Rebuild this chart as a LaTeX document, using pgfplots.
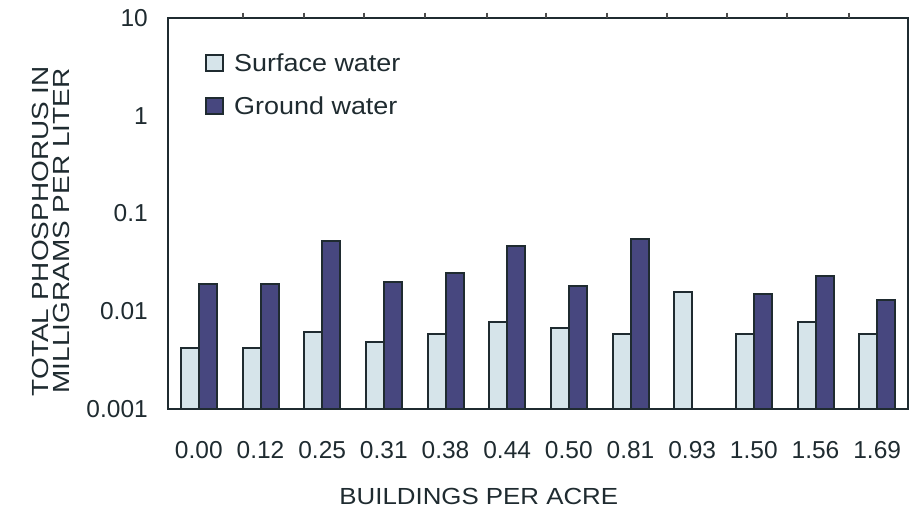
\documentclass[border=0pt]{standalone}
\usepackage{pgfplots}
\pgfplotsset{compat=1.18}
\usepackage{fontspec}
\setmainfont{Liberation Sans}
\newfontfamily\ylabfont[FakeStretch=1.2]{Liberation Sans}
\newfontfamily\xlabfont[FakeStretch=1.11]{Liberation Sans}
\newfontfamily\legfont[FakeStretch=1.1]{Liberation Sans}
\definecolor{surf}{HTML}{D6E4EA}
\definecolor{grnd}{HTML}{47477F}
\definecolor{edge}{HTML}{1F2B30}
\begin{document}
\begin{tikzpicture}
\begin{axis}[
  name=ax,
  scale only axis, width=740pt, height=391pt,
  ymode=log, ymin=0.001, ymax=10, log origin=infty,
  xmin=-0.5, xmax=11.5,
  axis line style={edge, line width=2pt},
  ybar=0pt, bar width=18pt,
  /pgf/number format/assume math mode=true,
  major tick length=0pt,
  xtick={0,...,11},
  xticklabels={0.00,0.12,0.25,0.31,0.38,0.44,0.50,0.81,0.93,1.50,1.56,1.69},
  xtick pos=upper, xticklabel pos=lower,
  extra x ticks={0.716,1.705,2.678,3.667,4.673,5.629,6.619,7.592,8.564,9.537,10.543},
  extra x tick labels={},
  extra x tick style={major tick length=5.5pt, tick style={draw=gray!60!black, line width=1.3pt}},
  xticklabel style={font=\fontsize{24.5}{26}\selectfont, text=edge, inner sep=0pt, anchor=north, yshift=-32pt},
  ytick={0.001,0.01,0.1,1,10},
  yticklabels={0.001,0.01,0.1,1,10},
  yminorticks=false,
  y tick style={draw=none},
  yticklabel style={font=\fontsize{24.5}{26}\selectfont, text=edge, inner sep=0pt, anchor=east, xshift=-20pt},
  xlabel={BUILDINGS PER ACRE},
  xlabel style={font=\xlabfont\fontsize{23.3}{25}\selectfont, text=edge, at={(axis description cs:0.42,0)}, anchor=center, yshift=-87pt},
  ylabel={TOTAL PHOSPHORUS IN\\MILLIGRAMS PER LITER},
  ylabel style={font=\ylabfont\fontsize{23.3}{21.5}\selectfont, text=edge, align=center, at={(axis description cs:-0.158,0.455)}, anchor=center},
  legend style={draw=none, fill=none, at={(axis description cs:0.05,0.915)}, anchor=north west,
    font=\legfont\fontsize{24.5}{26}\selectfont, text=edge, row sep=20pt, inner sep=0pt,
    nodes={inner sep=2pt}},
  legend cell align=left,
  legend image code/.code={\draw[#1, line width=2pt] (0pt,-8pt) rectangle (17pt,8pt);},
]
\addplot[fill=surf, draw=edge, line width=2pt] coordinates {
 (0,0.0042)(1,0.0042)(2,0.0061)(3,0.0049)(4,0.0059)(5,0.0078)
 (6,0.0068)(7,0.0059)(8,0.0158)(9,0.0059)(10,0.0078)(11,0.0059)};
\addlegendentry{\hspace{8pt}Surface water}
\addplot[fill=grnd, draw=edge, line width=2pt] coordinates {
 (0,0.0189)(1,0.0189)(2,0.0525)(3,0.0200)(4,0.0244)(5,0.0467)
 (6,0.0182)(7,0.0543)(9,0.0151)(10,0.0231)(11,0.0131)};
\addlegendentry{\hspace{8pt}Ground water}
\end{axis}
\pgfresetboundingbox
\path (ax.south west) ++(-168pt,-104pt) rectangle ++(912pt,513pt);
\end{tikzpicture}
\end{document}
